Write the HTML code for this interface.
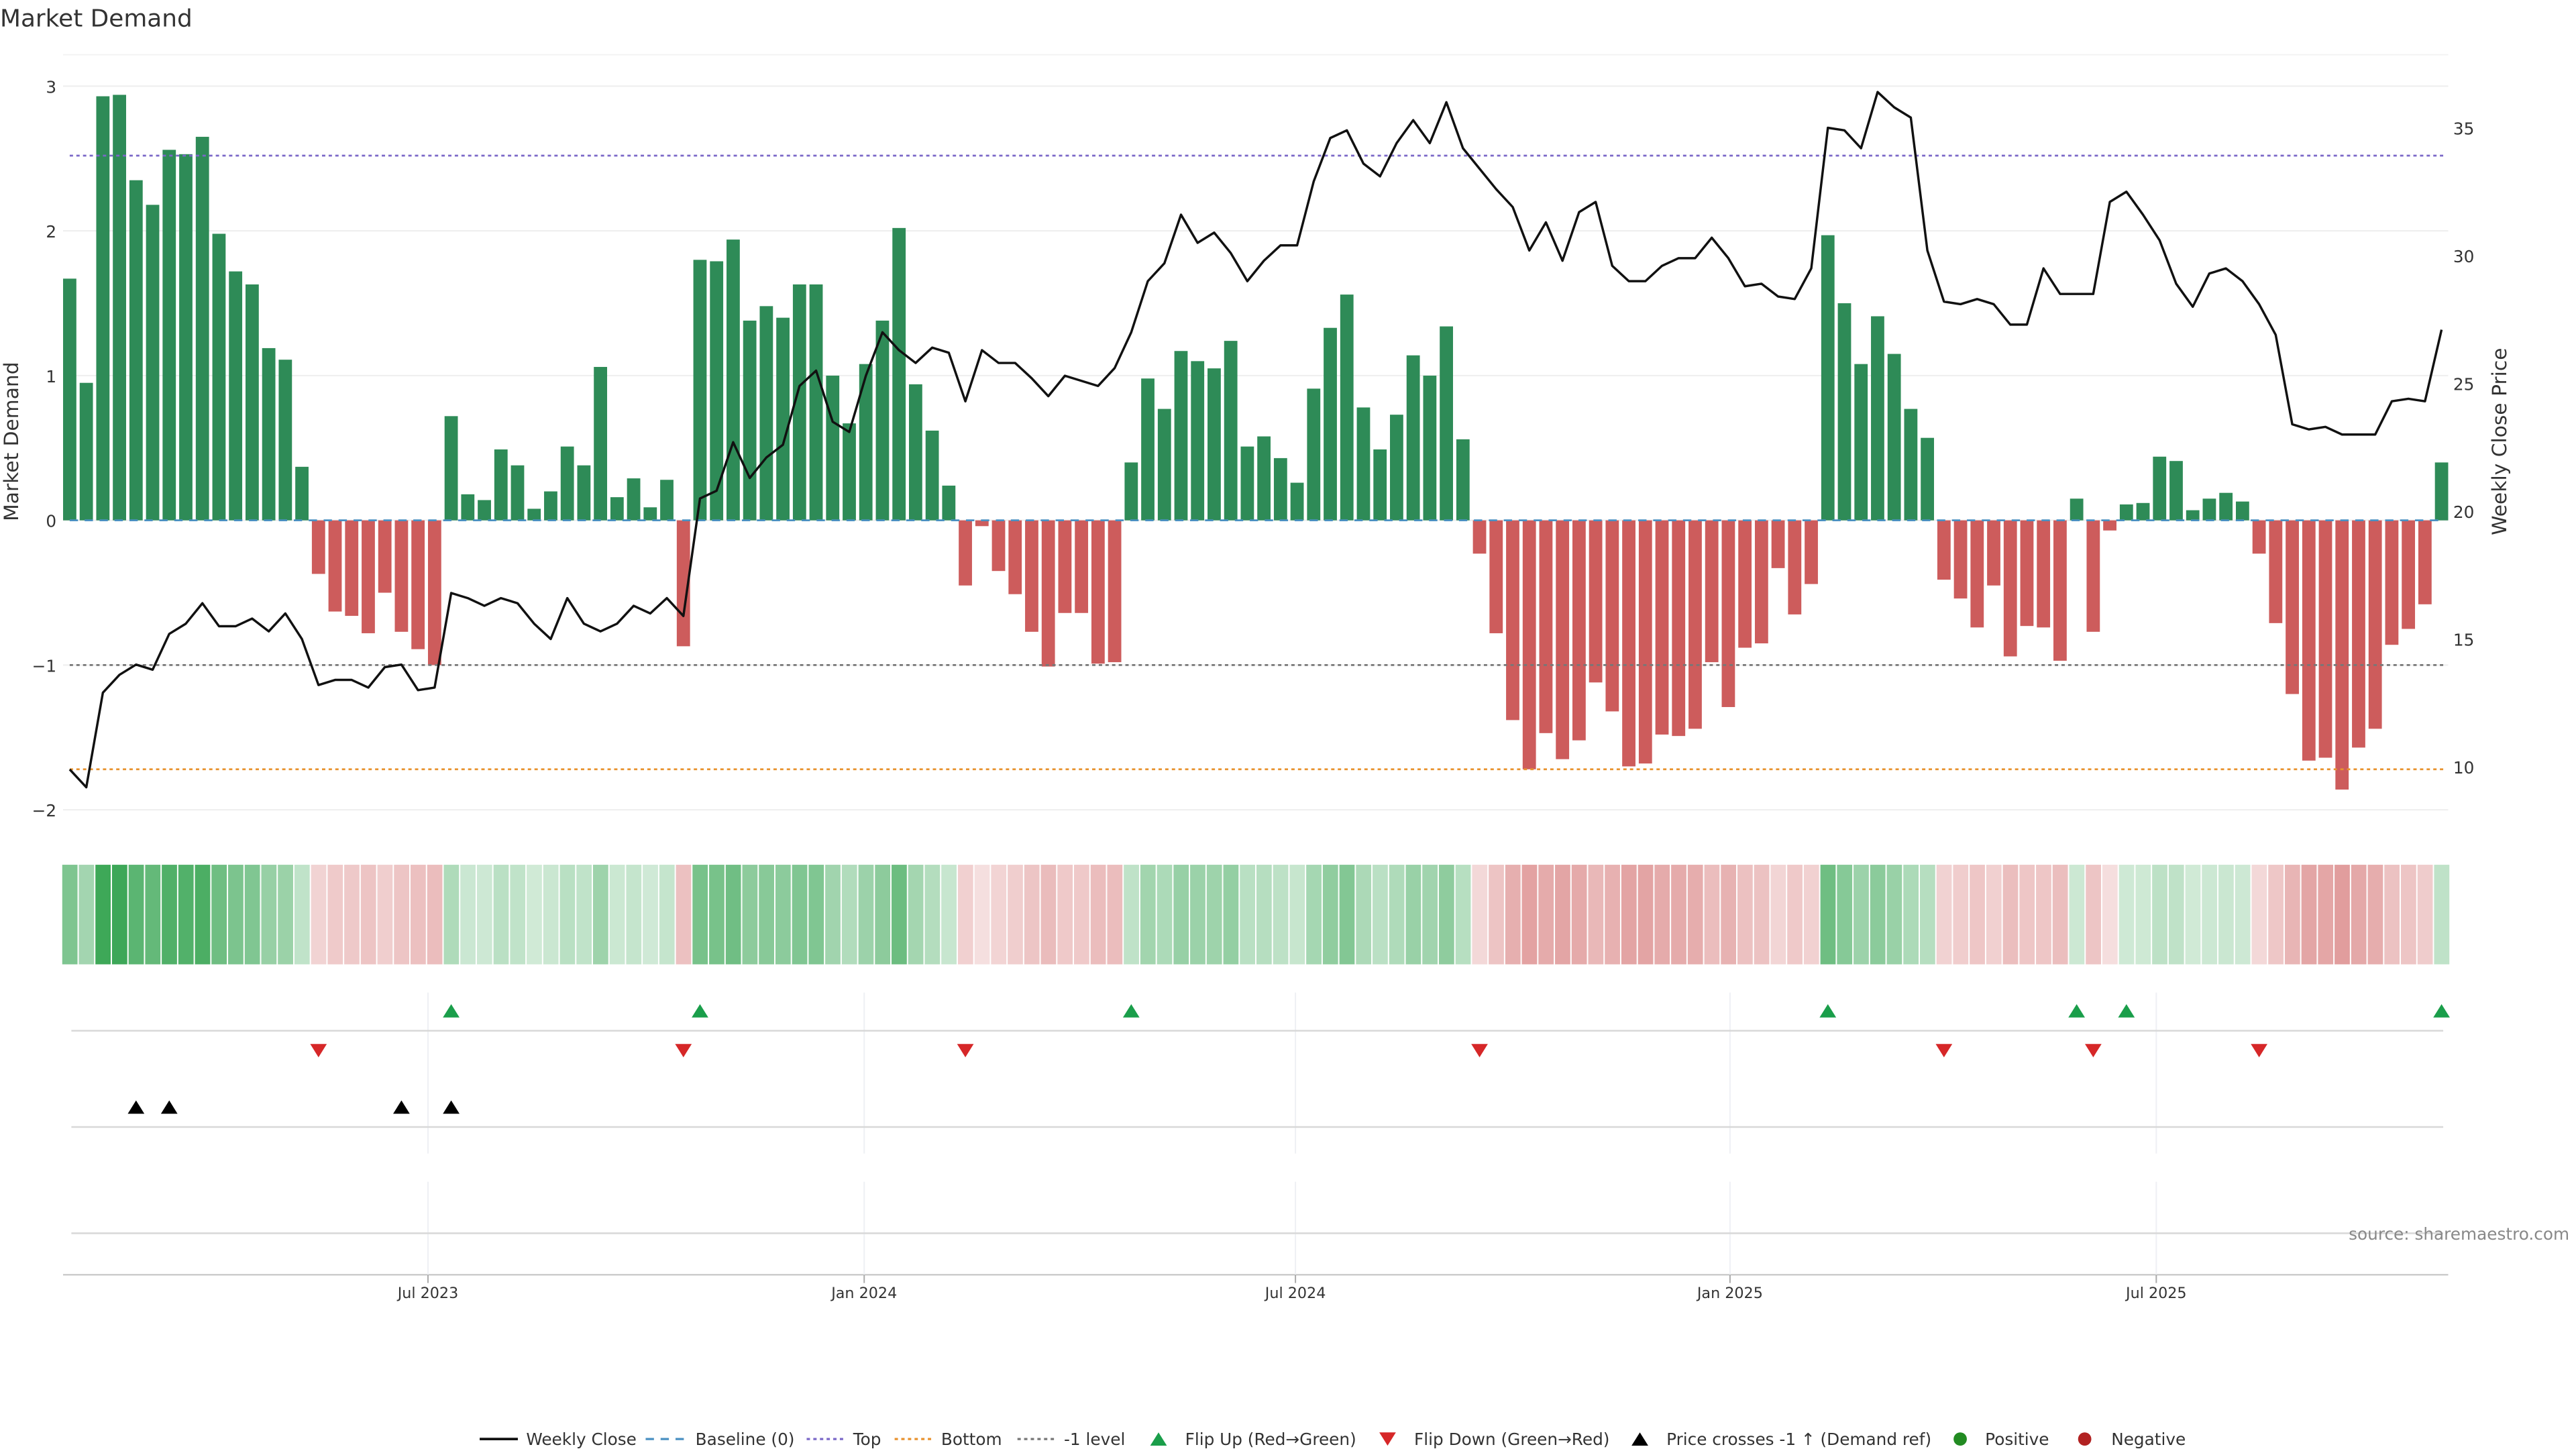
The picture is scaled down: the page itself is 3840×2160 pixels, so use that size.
<!DOCTYPE html>
<html><head><meta charset="utf-8"><title>Market Demand</title>
<style>html,body{margin:0;padding:0;background:#fff;}svg{display:block;font-family:"DejaVu Sans","Liberation Sans",sans-serif;}</style>
</head><body>
<svg id="chart" xmlns="http://www.w3.org/2000/svg" width="3840" height="2160" viewBox="0 0 1552 873" preserveAspectRatio="none">
<text x="0" y="16" font-size="14.5" fill="#333">Market Demand</text>
<g id="grid"></g>
<g id="bars"></g>
<g id="refs"></g>
<g id="price"></g>
<g id="axes"></g>
<g id="heat"></g>
<g id="marks"></g>
<text x="1548" y="747" font-size="10" fill="#888" text-anchor="end">source: sharemaestro.com</text>
<g id="legend"></g>
</svg>
<script>
const demand=[1.67,0.95,2.93,2.94,2.35,2.18,2.56,2.53,2.65,1.98,1.72,1.63,1.19,1.11,0.37,-0.37,-0.63,-0.66,-0.78,-0.5,-0.77,-0.89,-1.0,0.72,0.18,0.14,0.49,0.38,0.08,0.2,0.51,0.38,1.06,0.16,0.29,0.09,0.28,-0.87,1.8,1.79,1.94,1.38,1.48,1.4,1.63,1.63,1.0,0.67,1.08,1.38,2.02,0.94,0.62,0.24,-0.45,-0.04,-0.35,-0.51,-0.77,-1.01,-0.64,-0.64,-0.99,-0.98,0.4,0.98,0.77,1.17,1.1,1.05,1.24,0.51,0.58,0.43,0.26,0.91,1.33,1.56,0.78,0.49,0.73,1.14,1.0,1.34,0.56,-0.23,-0.78,-1.38,-1.72,-1.47,-1.65,-1.52,-1.12,-1.32,-1.7,-1.68,-1.48,-1.49,-1.44,-0.98,-1.29,-0.88,-0.85,-0.33,-0.65,-0.44,1.97,1.5,1.08,1.41,1.15,0.77,0.57,-0.41,-0.54,-0.74,-0.45,-0.94,-0.73,-0.74,-0.97,0.15,-0.77,-0.07,0.11,0.12,0.44,0.41,0.07,0.15,0.19,0.13,-0.23,-0.71,-1.2,-1.66,-1.64,-1.86,-1.57,-1.44,-0.86,-0.75,-0.58,0.4];
const closes=[9.9,9.2,12.9,13.6,14.0,13.8,15.2,15.6,16.4,15.5,15.5,15.8,15.3,16.0,15.0,13.2,13.4,13.4,13.1,13.9,14.0,13.0,13.1,16.8,16.6,16.3,16.6,16.4,15.6,15.0,16.6,15.6,15.3,15.6,16.3,16.0,16.6,15.9,20.5,20.8,22.7,21.3,22.1,22.6,24.9,25.5,23.5,23.1,25.3,27.0,26.3,25.8,26.4,26.2,24.3,26.3,25.8,25.8,25.2,24.5,25.3,25.1,24.9,25.6,27.0,29.0,29.7,31.6,30.5,30.9,30.1,29.0,29.8,30.4,30.4,32.9,34.6,34.9,33.6,33.1,34.4,35.3,34.4,36.0,34.2,33.4,32.6,31.9,30.2,31.3,29.8,31.7,32.1,29.6,29.0,29.0,29.6,29.9,29.9,30.7,29.9,28.8,28.9,28.4,28.3,29.5,35.0,34.9,34.2,36.4,35.8,35.4,30.2,28.2,28.1,28.3,28.1,27.3,27.3,29.5,28.5,28.5,28.5,32.1,32.5,31.6,30.6,28.9,28.0,29.3,29.5,29.0,28.1,26.9,23.4,23.2,23.3,23.0,23.0,23.0,24.3,24.4,24.3,27.1];
const priceCrossIdx=[4,6,20,23];
const leftTicks=[3,2,1,0,-1,-2];
const leftTickLabels=["3","2","1","0","\u22121","\u22122"];
const rightTicks=[35,30,25,20,15,10];
const dateTickWeeks=[21.6,47.9,73.9,100.1,125.8];
const dateTickLabels=["Jul 2023","Jan 2024","Jul 2024","Jan 2025","Jul 2025"];
const topLevel=2.52, bottomLevel=-1.72, minusLevel=-1;

const NS="http://www.w3.org/2000/svg";
function mk(parent,tag,attrs){const e=document.createElementNS(NS,tag);for(const k in attrs)e.setAttribute(k,attrs[k]);parent.appendChild(e);return e;}
const X0=42, STEP=(1471-42)/(demand.length-1);
const xs=i=>X0+i*STEP;
const yL=v=>313.5-v*87.2;
const yR=p=>308-(p-20)*15.4;
const PL=38, PR=1475;

const grid=document.getElementById('grid');
leftTicks.forEach(t=>{const l=mk(grid,'line',{x1:PL,x2:PR,y1:yL(t),y2:yL(t),stroke:'#eee','stroke-width':0.8});

});
const tl=mk(grid,'line',{x1:PL,x2:PR,y1:33,y2:33,stroke:'#f3f3f3','stroke-width':0.8});



const bars=document.getElementById('bars');
demand.forEach((v,i)=>{const y0=yL(0),y1=yL(v);
const r=mk(bars,'rect',{x:xs(i)-4,y:Math.min(y0,y1),width:8,height:Math.max(0.5,Math.abs(y1-y0)),fill:v>=0?'#2e8b57':'#cd5c5c'});

});

const refs=document.getElementById('refs');
[[0,'#4a90c2','5,4'],[topLevel,'#7b68c8','2,2'],[bottomLevel,'#e8922e','2,2'],[minusLevel,'#777','2,2']].forEach(([v,c,d])=>{
const l=mk(refs,'line',{x1:42,x2:1472,y1:yL(v),y2:yL(v),stroke:c,'stroke-width':1.1,'stroke-dasharray':d});

});

const price=document.getElementById('price');
const pl=mk(price,'polyline',{points:closes.map((p,i)=>xs(i)+','+yR(p)).join(' '),fill:'none',stroke:'#111','stroke-width':1.4,'stroke-linejoin':'round'});



const axes=document.getElementById('axes');
leftTicks.forEach((t,k)=>{const e=mk(axes,'text',{x:34,y:yL(t)+4,'font-size':10,fill:'#333','text-anchor':'end'});e.textContent=leftTickLabels[k];

});
rightTicks.forEach(t=>{const e=mk(axes,'text',{x:1478,y:yR(t)+4,'font-size':10,fill:'#333'});e.textContent=String(t);

});
const yl=mk(axes,'text',{x:11,y:266,'font-size':12,fill:'#333','text-anchor':'middle',transform:'rotate(-90 11 266)'});yl.textContent='Market Demand';


const yr=mk(axes,'text',{x:1510,y:266,'font-size':12,fill:'#333','text-anchor':'middle',transform:'rotate(-90 1510 266)'});yr.textContent='Weekly Close Price';


const ba=mk(axes,'line',{x1:PL,x2:PR,y1:768,y2:768,stroke:'#ccc','stroke-width':1});


dateTickWeeks.forEach((w,k)=>{const x=xs(w);
const g=mk(axes,'line',{x1:x,x2:x,y1:598,y2:695,stroke:'#eef0f4','stroke-width':0.8});


const g2=mk(axes,'line',{x1:x,x2:x,y1:712,y2:768,stroke:'#eef0f4','stroke-width':0.8});


const tk=mk(axes,'line',{x1:x,x2:x,y1:768,y2:773,stroke:'#aaa','stroke-width':0.8});


const e=mk(axes,'text',{x:x,y:782,'font-size':9,fill:'#333','text-anchor':'middle'});e.textContent=dateTickLabels[k];

});
[621,679,743].forEach(y=>{const l=mk(axes,'line',{x1:43,x2:1472,y1:y,y2:y,stroke:'#d8d8d8','stroke-width':1});

});

const heat=document.getElementById('heat');
demand.forEach((v,i)=>{const a=Math.min(1,0.22+0.78*Math.min(Math.abs(v),3)/3);
const r=mk(heat,'rect',{x:xs(i)-4.5,y:521,width:9.2,height:60,fill:v>=0?'rgb(58,166,85)':'rgb(205,92,92)','fill-opacity':v>=0?a:a*0.85});

});

const marks=document.getElementById('marks');
function tri(x,y,up,c,name){const p=up?`${x-5},${y+4} ${x+5},${y+4} ${x},${y-4}`:`${x-5},${y-4} ${x+5},${y-4} ${x},${y+4}`;
const t=mk(marks,'polygon',{points:p,fill:c});return t;}
for(let i=1;i<demand.length;i++){
 if(demand[i-1]<0&&demand[i]>=0){const t=tri(xs(i),609,true,'#1a9e4a');
 
 }
 if(demand[i-1]>=0&&demand[i]<0){const t=tri(xs(i),633,false,'#d62728');
 
 }
}
priceCrossIdx.forEach(i=>{const t=tri(xs(i),667,true,'#000');

});

const lg=document.getElementById('legend');
const LY=867;
function ltext(x,s){const e=mk(lg,'text',{x:x,y:LY+3.5,'font-size':10,fill:'#333'});e.textContent=s;

}
function lline(x,c,d,w){const l=mk(lg,'line',{x1:x,x2:x+23,y1:LY,y2:LY,stroke:c,'stroke-width':w,'stroke-dasharray':d});

}
lline(289,'#111','none',1.5);ltext(317,'Weekly Close');
lline(389,'#4a90c2','5,4',1.3);ltext(419,'Baseline (0)');
lline(486,'#7b68c8','2,2',1.3);ltext(514,'Top');
lline(539,'#e8922e','2,2',1.3);ltext(567,'Bottom');
lline(613,'#777','2,2',1.3);ltext(641,'-1 level');
let t;
t=tri(698,LY,true,'#1a9e4a');ltext(714,'Flip Up (Red\u2192Green)');
t=tri(836,LY,false,'#d62728');ltext(852,'Flip Down (Green\u2192Red)');
t=tri(988,LY,true,'#000');ltext(1004,'Price crosses -1 \u2191 (Demand ref)');
let c=mk(lg,'circle',{cx:1181,cy:LY,r:4,fill:'#228b22'});ltext(1196,'Positive');
c=mk(lg,'circle',{cx:1256,cy:LY,r:4,fill:'#b22222'});ltext(1272,'Negative');
</script>
</body></html>
